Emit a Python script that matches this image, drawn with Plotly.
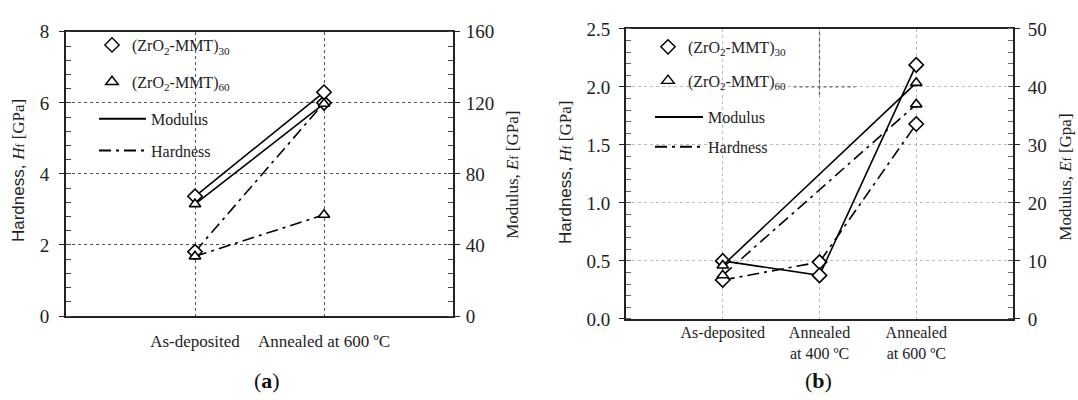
import plotly.graph_objects as go

# ---------------- data ----------------
cats_a = ["As-deposited", "Annealed at 600 ºC"]
cats_b = ["As-deposited", "Annealed<br>at 400 ºC", "Annealed<br>at 600 ºC"]

# panel (a): hardness (GPa, left axis), modulus (GPa, right axis)
a_mod_30 = [67.4, 126.0]
a_mod_60 = [63.0, 119.5]
a_hard_30 = [1.81, 6.0]
a_hard_60 = [1.68, 2.85]

# panel (b)
b_mod_30 = [10.0, 7.5, 43.8]
b_mod_60 = [9.2, None, 40.7]
b_hard_30 = [0.335, 0.49, 1.68]
b_hard_60 = [0.376, None, 1.85]

serif = "Liberation Serif"
DASHDOT = "12px,5px,3px,5px"

fig = go.Figure()

def add(x, y, xa, ya, symbol, size, dash):
    fig.add_trace(go.Scatter(
        x=x, y=y, xaxis=xa, yaxis=ya, mode="lines+markers",
        connectgaps=True, showlegend=False,
        line=dict(color="black", width=1.6, dash=dash),
        marker=dict(symbol=symbol, size=size, color="white",
                    line=dict(color="black", width=1.6)),
        cliponaxis=False,
    ))

# panel a
add(cats_a, a_mod_30, "x", "y2", "diamond", 11, "solid")
add(cats_a, a_mod_60, "x", "y2", "triangle-up", 10, "solid")
add(cats_a, a_hard_30, "x", "y", "diamond", 11, DASHDOT)
add(cats_a, a_hard_60, "x", "y", "triangle-up", 10, DASHDOT)
# panel b
add(cats_b, b_mod_30, "x2", "y4", "diamond", 11, "solid")
add(cats_b, b_mod_60, "x2", "y4", "triangle-up", 10, "solid")
add(cats_b, b_hard_30, "x2", "y3", "diamond", 11, DASHDOT)
add(cats_b, b_hard_60, "x2", "y3", "triangle-up", 10, DASHDOT)

# legend entries
def leg_marker(name, symbol, legend, xa, ya, grp):
    fig.add_trace(go.Scatter(
        x=[None], y=[None], xaxis=xa, yaxis=ya, mode="markers", name=name,
        legend=legend, legendgroup=grp,
        marker=dict(symbol=symbol, size=11, color="black",
                    line=dict(color="black", width=1.4))))

def leg_line(name, dash, legend, xa, ya, grp):
    fig.add_trace(go.Scatter(
        x=[None], y=[None], xaxis=xa, yaxis=ya, mode="lines", name=name,
        legend=legend, legendgroup=grp,
        line=dict(color="black", width=2, dash=dash)))

n30 = "(ZrO<sub>2</sub>-MMT)<sub>30</sub>"
n60 = "(ZrO<sub>2</sub>-MMT)<sub>60</sub>"
leg_marker(n30, "diamond-open", "legend", "x", "y", "a1")
leg_marker(n60, "triangle-up-open", "legend", "x", "y", "a2")
leg_line("Modulus", "solid", "legend2", "x", "y", "a3")
leg_line("Hardness", DASHDOT, "legend2", "x", "y", "a4")
leg_marker(n30, "diamond-open", "legend3", "x2", "y3", "b1")
leg_marker(n60, "triangle-up-open", "legend3", "x2", "y3", "b2")
leg_line("Modulus", "solid", "legend4", "x2", "y3", "b3")
leg_line("Hardness", DASHDOT, "legend4", "x2", "y3", "b4")

W, H = 1078, 400
dom_ax = [66 / W, 453 / W]
dom_ay = [77 / H, 377 / H]
dom_bx = [626 / W, 1013 / W]
dom_by = [74 / H, 380 / H]

tickfont = dict(family=serif, size=19, color="#222")

def leg(x, y, gap, iw):
    return dict(x=x, y=y, xref="paper", yref="paper", xanchor="left", yanchor="top",
                bgcolor="rgba(0,0,0,0)", font=dict(family=serif, size=16, color="#222"),
                tracegroupgap=gap, itemwidth=iw)

fig.update_layout(
    width=W, height=H, margin=dict(l=0, r=0, t=0, b=0),
    paper_bgcolor="white", plot_bgcolor="white",
    legend=leg(92 / W, 1 - 19 / H, 13, 30),
    legend2=leg(94 / W, 1 - 97 / H, 8, 47),
    legend3=leg(648 / W, 1 - 21 / H, 10, 30),
    legend4=leg(650 / W, 1 - 95 / H, 6, 48),
    xaxis=dict(domain=dom_ax, anchor="y", type="category", categoryarray=cats_a,
               range=[-1, 2], showgrid=True, griddash="dot", gridcolor="#555", gridwidth=1,
               showline=True, linecolor="#222", linewidth=2, mirror=True,
               ticks="", tickfont=dict(family=serif, size=17, color="#222"),
               ticklabelstandoff=9),
    yaxis=dict(domain=dom_ay, anchor="x", range=[0, 8], dtick=2,
               showgrid=True, griddash="dot", gridcolor="#555", gridwidth=1,
               showline=True, linecolor="#222", linewidth=2, zeroline=False,
               ticks="outside", ticklen=5, tickcolor="#222", tickfont=tickfont,
               ticklabelstandoff=6,
               minor=dict(dtick=0.4, ticks="inside", ticklen=5, tickcolor="#444", showgrid=False)),
    yaxis2=dict(overlaying="y", anchor="x", side="right", range=[0, 160], dtick=40,
                showgrid=False, showline=True, linecolor="#222", linewidth=2, zeroline=False,
                ticks="outside", ticklen=5, tickcolor="#222", tickfont=tickfont,
                ticklabelstandoff=2,
                minor=dict(dtick=8, ticks="inside", ticklen=5, tickcolor="#444", showgrid=False)),
    xaxis2=dict(domain=dom_bx, anchor="y3", type="category", categoryarray=cats_b,
                range=[-1, 3], showgrid=True, griddash="dot", gridcolor="#bbb", gridwidth=1,
                showline=True, linecolor="#222", linewidth=2, mirror=True,
                ticks="", tickfont=dict(family=serif, size=16, color="#222"),
                ticklabelstandoff=-2),
    yaxis3=dict(domain=dom_by, anchor="x2", range=[0, 2.5], dtick=0.5, tickformat=".1f",
                showgrid=True, griddash="dot", gridcolor="#bbb", gridwidth=1,
                showline=True, linecolor="#222", linewidth=2, zeroline=False,
                ticks="outside", ticklen=5, tickcolor="#222", tickfont=tickfont,
                ticklabelstandoff=5,
                minor=dict(dtick=0.1, ticks="inside", ticklen=5, tickcolor="#666", showgrid=False)),
    yaxis4=dict(overlaying="y3", anchor="x2", side="right", range=[0, 50], dtick=10,
                showgrid=False, showline=True, linecolor="#222", linewidth=2, zeroline=False,
                ticks="outside", ticklen=5, tickcolor="#222", tickfont=tickfont,
                ticklabelstandoff=4,
                minor=dict(dtick=2, ticks="inside", ticklen=5, tickcolor="#666", showgrid=False)),
)

# stray dashed guide lines in panel (b)
fig.add_shape(type="line", xref="x2", yref="y3", x0=1, x1=1, y0=1.93, y1=2.5,
              line=dict(color="#666", width=1.2, dash="3px,3px"))
fig.add_shape(type="line", xref="x2", yref="y3", x0=0.73, x1=1.37, y0=2.0, y1=2.0,
              line=dict(color="#666", width=1.2, dash="3px,3px"))

def title(text, x, y):
    fig.add_annotation(text=text, x=x / W, y=1 - y / H, xref="paper", yref="paper",
                       textangle=-90, showarrow=False, xanchor="center", yanchor="middle",
                       font=dict(family=serif, size=17, color="#222"))

hard = ("<span style='font-family:Liberation Sans'>Hardness, </span>"
        "<i>H</i><span style='font-size:12px'>f</span> [GPa]")
title(hard, 18, 170)
title("Modulus, <i>E</i><span style='font-size:12px'>f</span> [GPa]", 513, 174)
title(hard, 566, 172)
title("Modulus, <i>E</i><span style='font-size:12px'>f</span> [Gpa]", 1066, 177)

for txt, x in [("(<b>a</b>)", 267), ("(<b>b</b>)", 818)]:
    fig.add_annotation(text=txt, x=x / W, y=1 - 391 / H, xref="paper", yref="paper",
                       showarrow=False, xanchor="center", yanchor="middle",
                       font=dict(family=serif, size=22, color="#111"))

fig.write_html("out.html", config={"displayModeBar": False},
               post_script="document.body.style.margin='0';document.body.style.overflow='hidden';")
